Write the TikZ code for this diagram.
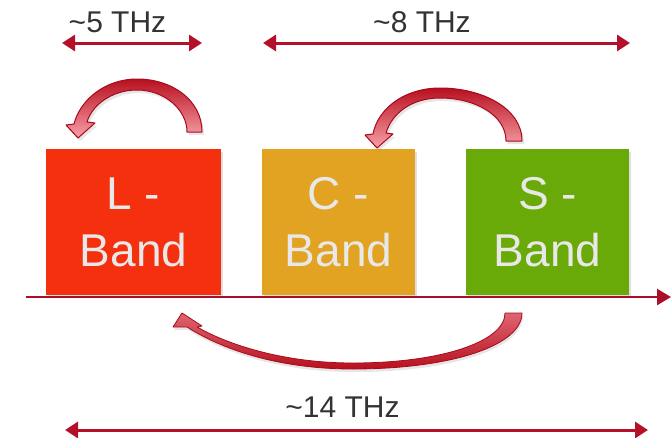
\documentclass[tikz,border=0pt]{standalone}
\usepackage{fontspec}
\setmainfont{Liberation Sans}
\usetikzlibrary{arrows.meta,shadows}
\definecolor{lband}{HTML}{F5300F}
\definecolor{cband}{HTML}{E2A222}
\definecolor{sband}{HTML}{6AAA08}
\definecolor{arrred}{HTML}{B5102A}
\definecolor{axisred}{HTML}{A8102A}
\definecolor{labgray}{HTML}{333333}
\definecolor{boxtext}{HTML}{E8E8E8}
\definecolor{curvedark}{HTML}{B8101F}
\definecolor{curvelight}{HTML}{F7A0A8}
\definecolor{curveedge}{HTML}{A80A1C}
\begin{document}
\begin{tikzpicture}[x=1pt,y=-1pt,
  bandbox/.style={draw=none, minimum height=146pt, inner sep=0pt, align=center,
    text=boxtext, font=\fontsize{46}{57}\selectfont,
    drop shadow={opacity=0.25, shadow xshift=2pt, shadow yshift=-3pt}},
  lab/.style={anchor=base, text=labgray, font=\fontsize{30}{34}\selectfont, inner sep=0pt},
  span/.style={draw=arrred, line width=3pt,
    {Triangle[length=13pt,width=16pt]}-{Triangle[length=13pt,width=16pt]}},
  bendarrow/.style={draw=curveedge, line width=1pt, line join=round,
    top color=curvedark, bottom color=curvelight,
    drop shadow={opacity=0.2, shadow xshift=2pt, shadow yshift=-3pt}},
  lowarrow/.style={draw=curveedge, line width=0.8pt, line join=round,
    top color=curvelight!60!curvedark, bottom color=curvedark,
    drop shadow={opacity=0.2, shadow xshift=1pt, shadow yshift=-3pt}}
]
\useasboundingbox (0,0) rectangle (671,437);

% band boxes
\node[bandbox, fill=lband, minimum width=175pt] (L) at (133.5,222) {L -\\Band};
\node[bandbox, fill=cband, minimum width=153pt] (C) at (338.5,222) {C -\\Band};
\node[bandbox, fill=sband, minimum width=163pt] (S) at (547.5,222) {S -\\Band};

% axis
\coordinate (ax0) at (26,297);
\coordinate (ax1) at (671,297);
\draw[axisred, line width=2.5pt, -{Triangle[length=14pt,width=16pt]}] (ax0) -- (ax1);

% spans
\coordinate (s5a) at (62,43);
\coordinate (s5b) at (202,43);
\coordinate (s8a) at (263,43);
\coordinate (s8b) at (630,43);
\coordinate (s14a) at (65,430);
\coordinate (s14b) at (648,430);
\draw[span] (s5a) -- (s5b);
\draw[span] (s8a) -- (s8b);
\draw[span] (s14a) -- (s14b);
\node[lab] (t5) at (117.5,32) {\textasciitilde5 THz};
\node[lab] (t8) at (422,32) {\textasciitilde8 THz};
\node[lab] (t14) at (342.5,417) {\textasciitilde14 THz};

% curved arrow over L
\path[bendarrow] (202,132) .. controls (202,100) and (172,79) .. (137,79)
  .. controls (105,79) and (80,100) .. (74,124)
  -- (66,125) -- (78,138) -- (95,123) -- (87,122)
  .. controls (92,105) and (112,90) .. (137,90)
  .. controls (165,90) and (187,110) .. (187,132) -- cycle;

% curved arrow from S to C
\path[bendarrow] (522,141) .. controls (522,108) and (482,88) .. (440,88)
  .. controls (405,88) and (378,108) .. (373,134)
  -- (365,135) -- (377,148) -- (393,134) -- (386,133)
  .. controls (392,113) and (412,98) .. (440,98)
  .. controls (475,98) and (506,115) .. (506,141) -- cycle;

% long lower arrow from S to L
\path[lowarrow] (522,313) .. controls (522,346) and (450,369) .. (353,369)
  .. controls (270,369) and (215,345) .. (187,327)
  -- (173,327) -- (182,313) -- (202,326) -- (197,327)
  .. controls (225,343) and (280,363) .. (353,363)
  .. controls (440,363) and (505,342) .. (505,313) -- cycle;
\end{tikzpicture}
\end{document}
